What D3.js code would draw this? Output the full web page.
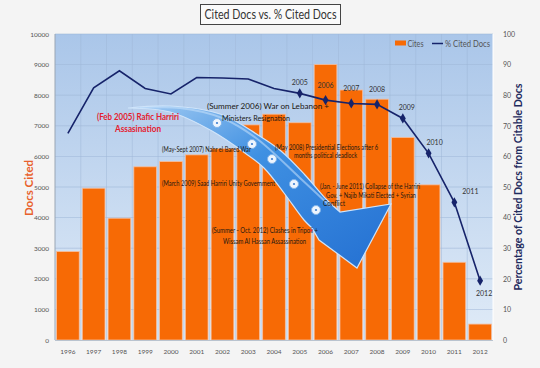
<!DOCTYPE html>
<html><head><meta charset="utf-8">
<script src="https://cdn.jsdelivr.net/npm/d3@7"></script>
<style>html,body{margin:0;padding:0;background:#f4f4f4;}svg{display:block;font-family:Lato,"Open Sans",sans-serif;}</style>
</head><body>
<svg id="c" width="540" height="368"></svg>
<script>
const years = ["1996","1997","1998","1999","2000","2001","2002","2003","2004","2005","2006","2007","2008","2009","2010","2011","2012"];
const cites = [2890,4960,3980,5660,5830,6050,6250,7030,7380,7100,9000,8170,7870,6620,5070,2540,520];
const pctCited = [67.5,82.4,88.0,82.2,80.4,85.8,85.6,85.3,82.2,80.6,78.4,77.3,77.0,72.4,61.0,45.0,19.4];
const markedYears = ["2005","2006","2007","2008","2009","2010","2011","2012"];
const leftTicks = [0,1000,2000,3000,4000,5000,6000,7000,8000,9000,10000];
const rightTicks = [0,10,20,30,40,50,60,70,80,90,100];

const svg = d3.select("#c");
const L=55, R=493, T=34, B=340;
const x = d3.scaleBand().domain(years).range([L,R]).paddingInner(0.12).paddingOuter(0.06);
const yL = d3.scaleLinear().domain([0,10000]).range([B,T]);
const yR = d3.scaleLinear().domain([0,100]).range([B,T]);

const defs = svg.append("defs");
const pg = defs.append("linearGradient").attr("id","pg").attr("x1",0).attr("y1",0).attr("x2",0).attr("y2",1);
pg.append("stop").attr("offset","0%").attr("stop-color","#aac6e9");
pg.append("stop").attr("offset","100%").attr("stop-color","#e0ebf7");
const ag = defs.append("linearGradient").attr("id","ag").attr("x1",0).attr("y1",0).attr("x2",1).attr("y2",1);
ag.append("stop").attr("offset","0%").attr("stop-color","#a6cdf3");
ag.append("stop").attr("offset","40%").attr("stop-color","#3f90e2");
ag.append("stop").attr("offset","100%").attr("stop-color","#2470d2");

svg.append("rect").attr("width",540).attr("height",368).attr("fill","#f4f4f4");

// title
svg.append("rect").attr("x",200.5).attr("y",4.5).attr("width",140).attr("height",20).attr("fill","#fafafa").attr("stroke","#444").attr("stroke-width",1);
svg.append("text").attr("x",270.5).attr("y",19).attr("text-anchor","middle").attr("font-size",12.5).attr("fill","#333")
  .attr("textLength",132).attr("lengthAdjust","spacingAndGlyphs").text("Cited Docs vs. % Cited Docs");

// plot area
svg.append("rect").attr("x",L).attr("y",T).attr("width",R-L).attr("height",B-T).attr("fill","url(#pg)");

// gridlines
svg.append("g").selectAll("line").data(leftTicks.slice(1)).join("line")
  .attr("x1",L).attr("x2",R).attr("y1",d=>yL(d)).attr("y2",d=>yL(d))
  .attr("stroke","#9fb8d8").attr("stroke-width",0.7).attr("opacity",0.8);
const step = x.step();
svg.append("g").selectAll("line").data(years.slice(1)).join("line")
  .attr("x1",d=>x(d)-step*x.paddingInner()/2).attr("x2",d=>x(d)-step*x.paddingInner()/2)
  .attr("y1",T).attr("y2",B).attr("stroke","#9fb8d8").attr("stroke-width",0.7).attr("opacity",0.7);

// bars
svg.append("g").selectAll("rect").data(years).join("rect")
  .attr("x",d=>x(d)).attr("width",x.bandwidth())
  .attr("y",(d,i)=>yL(cites[i])).attr("height",(d,i)=>B-yL(cites[i]))
  .attr("fill","#f76a05").attr("stroke","#f5bd9c").attr("stroke-width",0.8);

// plot frame
svg.append("line").attr("x1",L).attr("x2",L).attr("y1",T).attr("y2",B).attr("stroke","#9aa6b4").attr("stroke-width",1);
svg.append("line").attr("x1",L).attr("x2",R).attr("y1",B+0.5).attr("y2",B+0.5).attr("stroke","#b9c3cf").attr("stroke-width",1);
svg.append("line").attr("x1",R).attr("x2",R).attr("y1",T).attr("y2",B).attr("stroke","#ffffff").attr("stroke-width",1);

// arrow (decoration)
const arrowTop = [[128,108],[170,106],[221.6,114.5],[258,135],[281,151],[305,175],[327,200],[340,212]];
const arrowBot = [[312,228],[304,220],[284,193],[264,168],[245,153],[212,131],[170,112],[128,108]];
const lc = d3.line().curve(d3.curveCatmullRom);
const topD = lc(arrowTop), botD = lc(arrowBot);
const arrowD = topD + " L391,204 L357,268 L319,240 " + botD.replace(/^M/,"L") + " Z";
svg.append("path").attr("d",arrowD).attr("fill","url(#ag)").attr("stroke","#cfe4fa").attr("stroke-width",1.2);
svg.append("path").attr("d",lc([[140,108],[180,108],[222,118],[256,138],[300,178],[330,206]]))
  .attr("fill","none").attr("stroke","#c8e2fb").attr("stroke-width",2).attr("opacity",0.55);
const circ = [[217,123],[252,144],[272,159],[294,184],[316,210]];
svg.append("g").selectAll("circle").data(circ).join("circle").attr("cx",d=>d[0]).attr("cy",d=>d[1]).attr("r",4.5)
  .attr("fill","#eef5fd").attr("stroke","#7fb3ea").attr("stroke-width",1);
svg.append("g").selectAll("circle").data(circ).join("circle").attr("cx",d=>d[0]).attr("cy",d=>d[1]).attr("r",1.1).attr("fill","#3d7fd0");

// annotations
const notes = [
  {t:"(Summer 2006) War on Lebanon + ", x:207, y:108.5, w:122},
  {t:"Ministers Resignation", x:222, y:120.5, w:68},
  {t:"(May-Sept  2007) Nahr el Bared War", x:162, y:152, w:89},
  {t:"(May  2008) Presidential Elections  after 6", x:275, y:149.5, w:103},
  {t:"months political deadlock", x:294, y:157.5, w:63},
  {t:"(March  2009) Saad  Harriri Unity Government", x:162, y:185.5, w:113},
  {t:"(Jan. - June 2011) Collapse of the Harriri", x:320, y:189, w:100},
  {t:"Gov. + Najib Mikati Elected + Syrian", x:326, y:197.5, w:90},
  {t:"Conflict", x:323, y:206, w:22},
  {t:"(Summer  -  Oct. 2012) Clashes  in  Tripoli +", x:212, y:232.5, w:106},
  {t:"Wissam Al Hassan Assassination", x:223, y:244, w:83}
];
svg.append("g").selectAll("text").data(notes).join("text")
  .attr("x",d=>d.x).attr("y",d=>d.y).attr("font-size",6.6).attr("fill","#1c1812")
  .attr("textLength",d=>d.w).attr("lengthAdjust","spacingAndGlyphs").text(d=>d.t);
svg.append("circle").attr("cx",311).attr("cy",230.5).attr("r",1.3).attr("fill","#e33");
svg.append("text").attr("x",97).attr("y",119.5).attr("font-size",10).attr("font-weight","bold").attr("fill","#e5202e")
  .attr("textLength",82).attr("lengthAdjust","spacingAndGlyphs").text("(Feb 2005) Rafic Harriri");
svg.append("text").attr("x",115).attr("y",131.5).attr("font-size",10).attr("font-weight","bold").attr("fill","#e5202e")
  .attr("textLength",46).attr("lengthAdjust","spacingAndGlyphs").text("Assasination");

// line
const cx = d=>x(d)+x.bandwidth()/2;
const line = d3.line().x(d=>cx(d)).y((d,i)=>yR(pctCited[i]));
svg.append("path").datum(years).attr("d",line).attr("fill","none").attr("stroke","#16236a").attr("stroke-width",1.6);
const mk = markedYears.map(y=>({y, v:pctCited[years.indexOf(y)]}));
svg.append("g").selectAll("path").data(mk).join("path")
  .attr("d",d3.symbol().type(d3.symbolDiamond).size(30))
  .attr("transform",d=>`translate(${cx(d.y)},${yR(d.v)})`).attr("fill","#16236a");
const lblOff = {"2005":[0,-8],"2006":[0,-12],"2007":[0,-12],"2008":[0,-12],"2009":[4,-8],"2010":[6,-8],"2011":[16,-8],"2012":[4,15]};
svg.append("g").selectAll("text").data(mk).join("text")
  .attr("x",d=>cx(d.y)+lblOff[d.y][0]).attr("y",d=>yR(d.v)+lblOff[d.y][1])
  .attr("text-anchor","middle").attr("font-size",7).attr("fill","#333").text(d=>d.y);

// legend
svg.append("rect").attr("x",395).attr("y",40.5).attr("width",11).attr("height",5).attr("fill","#f76a05");
svg.append("text").attr("x",407.5).attr("y",46.5).attr("font-size",8.5).attr("fill","#555").attr("textLength",16).attr("lengthAdjust","spacingAndGlyphs").text("Cites");
svg.append("line").attr("x1",432).attr("x2",443).attr("y1",43.5).attr("y2",43.5).attr("stroke","#16236a").attr("stroke-width",1.5);
svg.append("text").attr("x",445).attr("y",46.5).attr("font-size",8.5).attr("fill","#555").attr("textLength",45).attr("lengthAdjust","spacingAndGlyphs").text("% Cited Docs");

// axes
const axL = svg.append("g").attr("transform",`translate(${L-3},0)`)
  .call(d3.axisLeft(yL).tickValues(leftTicks).tickFormat(d3.format("d")).tickSize(0));
axL.select(".domain").remove();
axL.selectAll("text").attr("font-size",6.5).attr("fill","#555").attr("font-family","Lato,sans-serif");
const axR = svg.append("g").attr("transform",`translate(${R+7},0)`)
  .call(d3.axisRight(yR).tickValues(rightTicks).tickSize(0));
axR.select(".domain").remove();
axR.selectAll("text").attr("font-size",7).attr("fill","#555").attr("font-family","Lato,sans-serif");
const axB = svg.append("g").attr("transform",`translate(0,${B+6})`)
  .call(d3.axisBottom(x).tickSize(0));
axB.select(".domain").remove();
axB.selectAll("text").attr("font-size",6.5).attr("fill","#555").attr("font-family","Lato,sans-serif");

// axis titles
svg.append("text").attr("transform","translate(33,188) rotate(-90)").attr("text-anchor","middle")
  .attr("font-size",11.5).attr("font-weight","bold").attr("fill","#e8612c").text("Docs Cited");
svg.append("text").attr("transform","translate(522,187) rotate(-90)").attr("text-anchor","middle")
  .attr("font-size",10.5).attr("font-weight","bold").attr("fill","#1f2b5e")
  .attr("textLength",207).attr("lengthAdjust","spacingAndGlyphs").text("Percentage of Cited Docs  from Citable Docs");
</script>
</body></html>
